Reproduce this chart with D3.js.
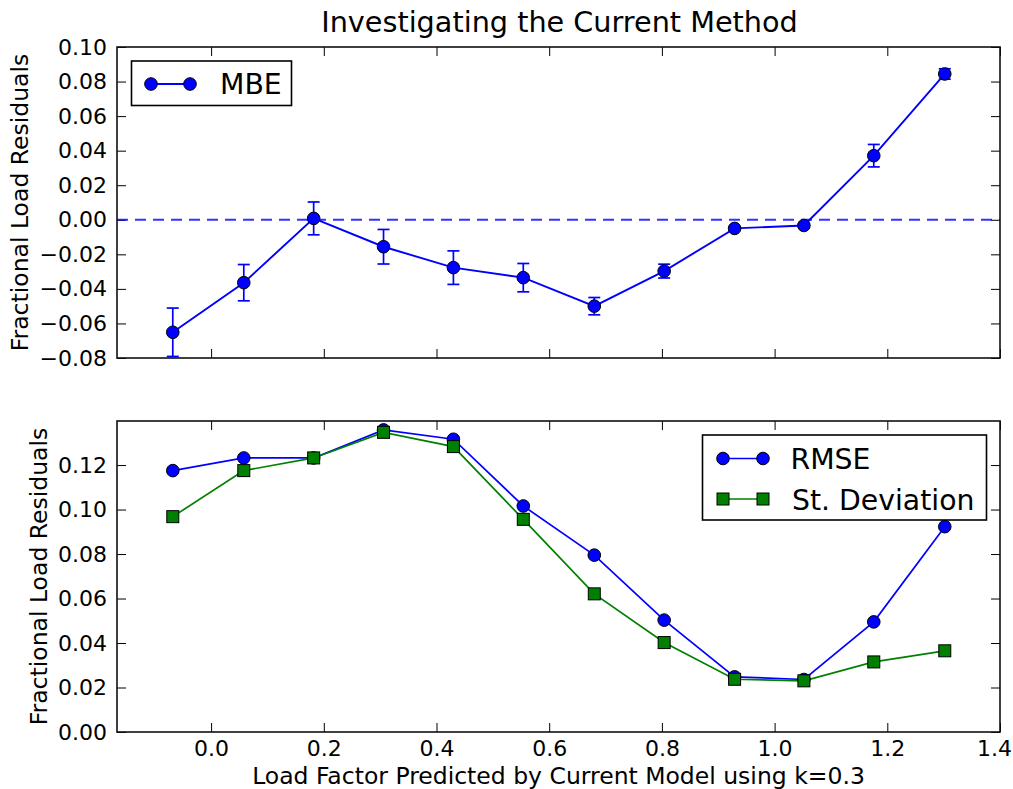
<!DOCTYPE html>
<html>
<head>
<meta charset="utf-8">
<script src="https://cdn.jsdelivr.net/npm/d3@7"></script>
<style>
  html, body { margin: 0; padding: 0; background: #fff; }
  svg { display: block; font-family: "DejaVu Sans", sans-serif; }
</style>
</head>
<body>
<svg id="chart" width="1013" height="789"></svg>
<script>
// Bin centres of the predicted load factor
const loadFactor = [-0.068, 0.058, 0.182, 0.306, 0.430, 0.554, 0.680, 0.804, 0.929, 1.052, 1.176, 1.302];
// Mean bias error per bin and its uncertainty
const mbe    = [-0.0651, -0.0364, 0.0008, -0.0156, -0.0277, -0.0335, -0.0500, -0.0297, -0.0050, -0.0033, 0.0371, 0.0844];
const mbeErr = [0.0140, 0.0105, 0.0095, 0.0100, 0.0097, 0.0082, 0.0050, 0.0040, 0.0008, 0.0008, 0.0065, 0.0030];
// Spread of residuals per bin
const rmse   = [0.1175, 0.1232, 0.1232, 0.1358, 0.1316, 0.1016, 0.0795, 0.0503, 0.0248, 0.0236, 0.0495, 0.0923];
const stdDev = [0.0968, 0.1175, 0.1232, 0.1347, 0.1283, 0.0956, 0.0621, 0.0402, 0.0237, 0.0230, 0.0315, 0.0365];

const xTicks      = [0.0, 0.2, 0.4, 0.6, 0.8, 1.0, 1.2, 1.4];
const yTicksTop   = [-0.08, -0.06, -0.04, -0.02, 0.00, 0.02, 0.04, 0.06, 0.08, 0.10];
const yTicksBot   = [0.00, 0.02, 0.04, 0.06, 0.08, 0.10, 0.12];

const titleText  = "Investigating the Current Method";
const yLabelText = "Fractional Load Residuals";
const xLabelText = "Load Factor Predicted by Current Model using k=0.3";
const legendTop  = ["MBE"];
const legendBot  = ["RMSE", "St. Deviation"];

const BLUE = "#0000ff", GREEN = "#008000";
const svg = d3.select("#chart");

const left = 117, right = 1000;
const topPanel = { y0: 47, y1: 358 };
const botPanel = { y0: 421, y1: 732 };

const x = d3.scaleLinear().domain([-0.167, 1.4]).range([left, right]);
const yTop = d3.scaleLinear().domain([-0.08, 0.10]).range([topPanel.y1, topPanel.y0]);
const yBot = d3.scaleLinear().domain([0, 0.1398]).range([botPanel.y1, botPanel.y0]);

const fmt2 = d3.format(".2f"), fmt1 = d3.format(".1f");
const TICK_FONT = 22, LABEL_FONT = 23.5, LEGEND_FONT = 28.3, TITLE_FONT = 28.7;

function drawFrame(g, y, yTicks, showX, panel, id) {
  const tickLen = 9;
  // ticks pointing inward on all four sides
  g.append("g").attr("transform", `translate(${left},0)`)
    .call(d3.axisLeft(y).tickValues(yTicks).tickSize(-tickLen).tickFormat(fmt2).tickPadding(10))
    .call(a => a.select(".domain").remove())
    .call(a => a.selectAll("text").attr("font-size", TICK_FONT).attr("fill", "#000")
      .attr("font-family", "DejaVu Sans, sans-serif"));
  g.append("g").attr("transform", `translate(${right},0)`)
    .call(d3.axisRight(y).tickValues(yTicks).tickSize(-tickLen).tickFormat(""))
    .call(a => a.select(".domain").remove());
  const xb = g.append("g").attr("transform", `translate(0,${panel.y1})`)
    .call(d3.axisBottom(x).tickValues(xTicks).tickSize(-tickLen).tickFormat(showX ? fmt1 : "").tickPadding(8))
    .call(a => a.select(".domain").remove())
    .call(a => a.selectAll("text").attr("font-size", TICK_FONT).attr("fill", "#000")
      .attr("font-family", "DejaVu Sans, sans-serif"));
  // keep the last label inside the figure edge
  xb.selectAll(".tick text").filter(d => d === 1.4).attr("dx", -6);
  g.append("g").attr("transform", `translate(0,${panel.y0})`)
    .call(d3.axisTop(x).tickValues(xTicks).tickSize(-tickLen).tickFormat(""))
    .call(a => a.select(".domain").remove());
  g.selectAll(".tick line").attr("stroke", "#000").attr("stroke-width", 1);

  svg.append("defs").append("clipPath").attr("id", id)
    .append("rect").attr("x", left).attr("y", panel.y0)
    .attr("width", right - left).attr("height", panel.y1 - panel.y0);
}

function drawBorder(panel) {
  svg.append("rect").attr("x", left).attr("y", panel.y0)
    .attr("width", right - left).attr("height", panel.y1 - panel.y0)
    .attr("fill", "none").attr("stroke", "#111").attr("stroke-width", 1.6);
}

function circles(g, data, y, r) {
  g.selectAll(null).data(data).enter().append("circle")
    .attr("cx", (d, i) => x(loadFactor[i])).attr("cy", d => y(d)).attr("r", r)
    .attr("fill", BLUE).attr("stroke", "#000").attr("stroke-width", 1);
}
function squares(g, data, y, s) {
  g.selectAll(null).data(data).enter().append("rect")
    .attr("x", (d, i) => x(loadFactor[i]) - s / 2).attr("y", d => y(d) - s / 2)
    .attr("width", s).attr("height", s)
    .attr("fill", GREEN).attr("stroke", "#000").attr("stroke-width", 1);
}

// ---------- top panel: mean bias error ----------
const gTop = svg.append("g");
drawFrame(gTop, yTop, yTicksTop, false, topPanel, "clipTop");
const pTop = svg.append("g").attr("clip-path", "url(#clipTop)");

pTop.append("line").attr("x1", left).attr("x2", right)
  .attr("y1", yTop(0)).attr("y2", yTop(0))
  .attr("stroke", BLUE).attr("stroke-width", 1.9).attr("stroke-dasharray", "11,7").attr("opacity", 0.8);

const line = y => d3.line().x((d, i) => x(loadFactor[i])).y(d => y(d));
pTop.append("path").datum(mbe).attr("d", line(yTop))
  .attr("fill", "none").attr("stroke", BLUE).attr("stroke-width", 1.9);

const eb = pTop.append("g").attr("stroke", BLUE).attr("stroke-width", 1.7);
mbe.forEach((v, i) => {
  const cx = x(loadFactor[i]), y1 = yTop(v - mbeErr[i]), y2 = yTop(v + mbeErr[i]);
  eb.append("line").attr("x1", cx).attr("x2", cx).attr("y1", y1).attr("y2", y2);
  eb.append("line").attr("x1", cx - 6).attr("x2", cx + 6).attr("y1", y1).attr("y2", y1);
  eb.append("line").attr("x1", cx - 6).attr("x2", cx + 6).attr("y1", y2).attr("y2", y2);
});
circles(pTop, mbe, yTop, 6.3);
drawBorder(topPanel);

// legend (top)
const lg1 = svg.append("g");
lg1.append("rect").attr("x", 131.5).attr("y", 61).attr("width", 160).attr("height", 44.5)
  .attr("fill", "#fff").attr("stroke", "#000").attr("stroke-width", 1.6);
lg1.append("line").attr("x1", 151).attr("x2", 190).attr("y1", 84).attr("y2", 84)
  .attr("stroke", BLUE).attr("stroke-width", 1.8);
[151, 190].forEach(cx => lg1.append("circle").attr("cx", cx).attr("cy", 84).attr("r", 6.3)
  .attr("fill", BLUE).attr("stroke", "#000").attr("stroke-width", 1));
lg1.append("text").attr("x", 220).attr("y", 94).attr("font-size", LEGEND_FONT).text(legendTop[0]);

// ---------- bottom panel: RMSE and standard deviation ----------
const gBot = svg.append("g");
drawFrame(gBot, yBot, yTicksBot, true, botPanel, "clipBot");
const pBot = svg.append("g").attr("clip-path", "url(#clipBot)");
pBot.append("path").datum(rmse).attr("d", line(yBot))
  .attr("fill", "none").attr("stroke", BLUE).attr("stroke-width", 1.7);
pBot.append("path").datum(stdDev).attr("d", line(yBot))
  .attr("fill", "none").attr("stroke", GREEN).attr("stroke-width", 1.7);
circles(svg.append("g"), rmse, yBot, 6.3);
squares(svg.append("g"), stdDev, yBot, 12);
drawBorder(botPanel);

// legend (bottom)
const lg2 = svg.append("g");
lg2.append("rect").attr("x", 702.5).attr("y", 435).attr("width", 284).attr("height", 85)
  .attr("fill", "#fff").attr("stroke", "#000").attr("stroke-width", 1.6);
lg2.append("line").attr("x1", 723).attr("x2", 763).attr("y1", 458.5).attr("y2", 458.5)
  .attr("stroke", BLUE).attr("stroke-width", 1.6);
[723, 763].forEach(cx => lg2.append("circle").attr("cx", cx).attr("cy", 458.5).attr("r", 6.3)
  .attr("fill", BLUE).attr("stroke", "#000").attr("stroke-width", 1));
lg2.append("text").attr("x", 790.5).attr("y", 468.5).attr("font-size", LEGEND_FONT).text(legendBot[0]);
lg2.append("line").attr("x1", 723).attr("x2", 763).attr("y1", 499).attr("y2", 499)
  .attr("stroke", GREEN).attr("stroke-width", 1.6);
[723, 763].forEach(cx => lg2.append("rect").attr("x", cx - 6).attr("y", 493).attr("width", 12).attr("height", 12)
  .attr("fill", GREEN).attr("stroke", "#000").attr("stroke-width", 1));
lg2.append("text").attr("x", 792).attr("y", 509.5).attr("font-size", LEGEND_FONT).text(legendBot[1]);

// ---------- titles and axis labels ----------
svg.append("text").attr("x", (left + right) / 2 + 1).attr("y", 31.5).attr("text-anchor", "middle")
  .attr("font-size", TITLE_FONT).text(titleText);
svg.append("text").attr("transform", `translate(28,${(topPanel.y0 + topPanel.y1) / 2}) rotate(-90)`)
  .attr("text-anchor", "middle").attr("font-size", LABEL_FONT).text(yLabelText);
svg.append("text").attr("transform", `translate(47,${(botPanel.y0 + botPanel.y1) / 2}) rotate(-90)`)
  .attr("text-anchor", "middle").attr("font-size", LABEL_FONT).text(yLabelText);
svg.append("text").attr("x", (left + right) / 2).attr("y", 783.5).attr("text-anchor", "middle")
  .attr("font-size", LABEL_FONT).text(xLabelText);
</script>
</body>
</html>
